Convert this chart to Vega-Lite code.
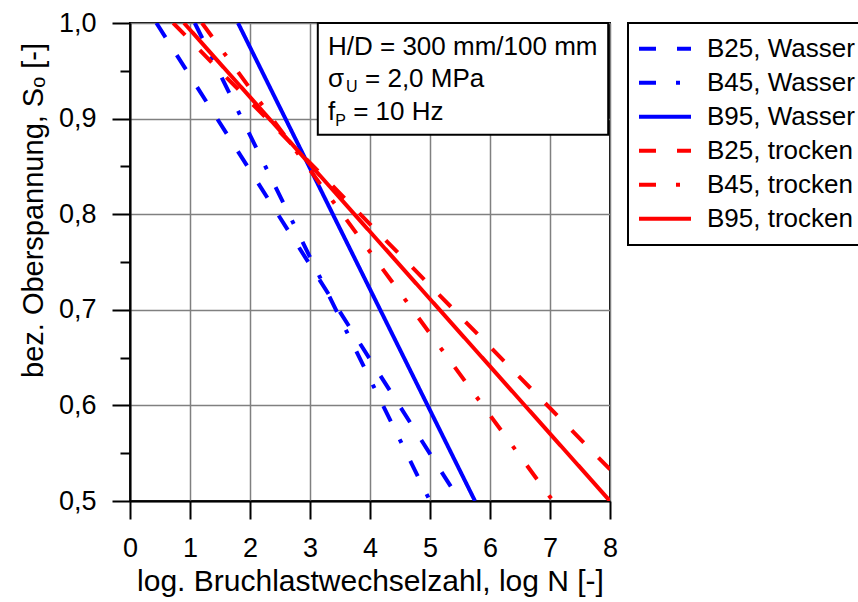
{
  "$schema": "https://vega.github.io/schema/vega-lite/v6.json",
  "width": 480,
  "height": 478,
  "autosize": {"type": "none"},
  "padding": {"left": 130, "top": 23, "right": 248, "bottom": 101},
  "background": "white",
  "config": {
    "view": {"stroke": "#000000", "strokeWidth": 2},
    "font": "Liberation Sans",
    "axis": {
      "domainColor": "#000000", "domainWidth": 2,
      "tickColor": "#000000", "tickWidth": 2,
      "gridColor": "#808080", "gridWidth": 1.5,
      "labelFont": "Liberation Sans", "labelFontSize": 27, "labelColor": "#000000",
      "titleFont": "Liberation Sans", "titleFontSize": 29, "titleFontWeight": "normal", "titleColor": "#000000",
      "labelPadding": 16
    }
  },
  "datasets": {
    "lines": [
      {"series": "B25, Wasser", "logN": 0.44, "S": 1.0},
      {"series": "B25, Wasser", "logN": 5.5, "S": 0.5},
      {"series": "B45, Wasser", "logN": 1.08, "S": 1.0},
      {"series": "B45, Wasser", "logN": 5.0, "S": 0.5},
      {"series": "B95, Wasser", "logN": 1.8, "S": 1.0},
      {"series": "B95, Wasser", "logN": 5.75, "S": 0.5},
      {"series": "B25, trocken", "logN": 0.72, "S": 1.0},
      {"series": "B25, trocken", "logN": 8.0, "S": 0.533},
      {"series": "B45, trocken", "logN": 1.2, "S": 1.0},
      {"series": "B45, trocken", "logN": 7.05, "S": 0.5},
      {"series": "B95, trocken", "logN": 0.9, "S": 1.0},
      {"series": "B95, trocken", "logN": 8.0, "S": 0.5}
    ],
    "box": [{"x0": 3.13, "x1": 7.97, "y0": 1.0, "y1": 0.883}],
    "notes": [
      {"t": "H/D = 300 mm/100 mm", "x": 3.3, "y": 0.9665},
      {"t": "σ", "x": 3.3, "y": 0.9334},
      {"t": "= 2,0 MPa", "x": 3.917, "y": 0.9334},
      {"t": "f", "x": 3.3, "y": 0.8985},
      {"t": "= 10 Hz", "x": 3.72, "y": 0.8985}
    ],
    "subs": [
      {"t": "U", "x": 3.6, "y": 0.9281},
      {"t": "P", "x": 3.42, "y": 0.8923}
    ]
  },
  "layer": [
    {
      "data": {"name": "lines"},
      "mark": {"type": "line", "strokeWidth": 4, "strokeCap": "butt", "clip": true},
      "encoding": {
        "x": {
          "field": "logN", "type": "quantitative",
          "scale": {"domain": [0, 8], "nice": false, "zero": false},
          "axis": {
            "title": "log. Bruchlastwechselzahl, log N [-]",
            "titleFontSize": 30,
            "values": [0, 0.5, 1, 1.5, 2, 2.5, 3, 3.5, 4, 4.5, 5, 5.5, 6, 6.5, 7, 7.5, 8],
            "labelExpr": "datum.value % 1 === 0 ? format(datum.value, 'd') : ''",
            "tickSize": {"condition": {"test": "datum.value % 1 === 0", "value": 18}, "value": 10},
            "gridOpacity": {"condition": {"test": "datum.value % 1 === 0", "value": 1}, "value": 0},
            "titlePadding": 5,
            "labelFlush": false
          }
        },
        "y": {
          "field": "S", "type": "quantitative",
          "scale": {"domain": [0.5, 1.0], "nice": false, "zero": false},
          "axis": {
            "title": "bez. Oberspannung, Sₒ [-]",
            "values": [0.5, 0.55, 0.6, 0.65, 0.7, 0.75, 0.8, 0.85, 0.9, 0.95, 1.0],
            "labelExpr": "round(datum.value * 100) % 10 === 0 ? replace(format(datum.value, '.1f'), '.', ',') : ''",
            "tickSize": {"condition": {"test": "round(datum.value * 100) % 10 === 0", "value": 18}, "value": 10},
            "gridOpacity": {"condition": {"test": "round(datum.value * 100) % 10 === 0", "value": 1}, "value": 0},
            "titlePadding": 10,
            "titleY": 187,
            "labelFlush": false
          }
        },
        "color": {
          "field": "series", "type": "nominal",
          "scale": {
            "domain": ["B25, Wasser", "B45, Wasser", "B95, Wasser", "B25, trocken", "B45, trocken", "B95, trocken"],
            "range": ["#0000FF", "#0000FF", "#0000FF", "#FF0000", "#FF0000", "#FF0000"]
          },
          "legend": {
            "title": null,
            "orient": "right",
            "offset": 18,
            "symbolType": "stroke",
            "symbolSize": 2704,
            "symbolStrokeWidth": 4,
            "labelFont": "Liberation Sans",
            "labelFontSize": 26,
            "labelColor": "#000000",
            "labelOffset": 14,
            "labelLimit": 300,
            "strokeColor": "#000000",
            "padding": 9,
            "rowPadding": 0,
            "clipHeight": 33.4,
            "encode": {"legend": {"update": {"strokeWidth": {"value": 2}}}}
          }
        },
        "strokeDash": {
          "field": "series", "type": "nominal",
          "scale": {
            "domain": ["B25, Wasser", "B45, Wasser", "B95, Wasser", "B25, trocken", "B45, trocken", "B95, trocken"],
            "range": [[17, 21], [17, 20, 4, 20], [1, 0], [17, 21], [17, 20, 4, 20], [1, 0]]
          },
          "legend": null
        }
      }
    },
    {
      "data": {"name": "box"},
      "mark": {"type": "rect", "fill": "#FFFFFF", "stroke": "#000000", "strokeWidth": 2},
      "encoding": {
        "x": {"field": "x0", "type": "quantitative"},
        "x2": {"field": "x1"},
        "y": {"field": "y0", "type": "quantitative"},
        "y2": {"field": "y1"}
      }
    },
    {
      "data": {"name": "notes"},
      "mark": {"type": "text", "align": "left", "baseline": "alphabetic", "font": "Liberation Sans", "fontSize": 26, "color": "#000000"},
      "encoding": {
        "x": {"field": "x", "type": "quantitative"},
        "y": {"field": "y", "type": "quantitative"},
        "text": {"field": "t"}
      }
    },
    {
      "data": {"name": "subs"},
      "mark": {"type": "text", "align": "left", "baseline": "alphabetic", "font": "Liberation Sans", "fontSize": 16, "color": "#000000"},
      "encoding": {
        "x": {"field": "x", "type": "quantitative"},
        "y": {"field": "y", "type": "quantitative"},
        "text": {"field": "t"}
      }
    }
  ]
}
